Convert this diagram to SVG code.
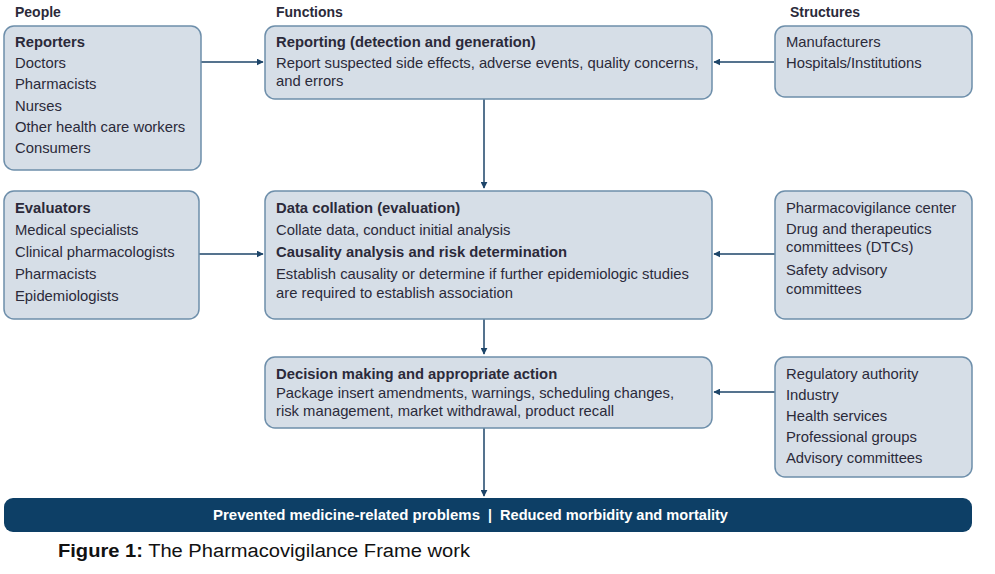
<svg xmlns="http://www.w3.org/2000/svg" width="995" height="574" viewBox="0 0 995 574">
<defs>
<style>
.box{fill:#d6dee7;stroke:#6e8fab;stroke-width:1.5}
.t{font-family:"Liberation Sans",Arial,sans-serif;font-size:14.8px;fill:#2b2a3a}
.b{font-weight:bold}
.h{font-family:"Liberation Sans",Arial,sans-serif;font-size:14px;font-weight:bold;fill:#2b2a3a}
.c{stroke:#1d4569;stroke-width:1.5;fill:none}
.w{font-family:"Liberation Sans",Arial,sans-serif;font-size:14px;font-weight:bold;fill:#ffffff}
</style>
<marker id="ah" viewBox="0 0 10 10" refX="9" refY="5" markerWidth="7" markerHeight="7" orient="auto" markerUnits="userSpaceOnUse">
<path d="M0,0 L10,5 L0,10 z" fill="#1d4569"/>
</marker>
</defs>
<rect width="995" height="574" fill="#ffffff"/>
<g id="headers">
<text class="h" x="15" y="17">People</text>
<text class="h" x="276" y="17">Functions</text>
<text class="h" x="790" y="17">Structures</text>
</g>
<g id="connectors">
<line class="c" x1="201" y1="62" x2="263" y2="62" marker-end="url(#ah)"/>
<line class="c" x1="774" y1="62" x2="714" y2="62" marker-end="url(#ah)"/>
<line class="c" x1="484" y1="99" x2="484" y2="188" marker-end="url(#ah)"/>
<line class="c" x1="199" y1="254" x2="263" y2="254" marker-end="url(#ah)"/>
<line class="c" x1="775" y1="254" x2="714" y2="254" marker-end="url(#ah)"/>
<line class="c" x1="484" y1="319" x2="484" y2="354" marker-end="url(#ah)"/>
<line class="c" x1="775" y1="392" x2="714" y2="392" marker-end="url(#ah)"/>
<line class="c" x1="484" y1="428" x2="484" y2="496" marker-end="url(#ah)"/>
</g>
<g id="reporters">
<rect class="box" x="4" y="26" width="197" height="144" rx="10"/>
<text class="t b" x="15" y="47">Reporters</text>
<text class="t" x="15" y="68">Doctors</text>
<text class="t" x="15" y="89">Pharmacists</text>
<text class="t" x="15" y="111">Nurses</text>
<text class="t" x="15" y="132">Other health care workers</text>
<text class="t" x="15" y="153">Consumers</text>
</g>
<g id="reporting">
<rect class="box" x="265" y="26" width="447" height="73" rx="10"/>
<text class="t b" x="276" y="47">Reporting (detection and generation)</text>
<text class="t" x="276" y="68">Report suspected side effects, adverse events, quality concerns,</text>
<text class="t" x="276" y="86">and errors</text>
</g>
<g id="manufacturers">
<rect class="box" x="775" y="26" width="197" height="71" rx="10"/>
<text class="t" x="786" y="47">Manufacturers</text>
<text class="t" x="786" y="68">Hospitals/Institutions</text>
</g>
<g id="evaluators">
<rect class="box" x="4" y="191" width="195" height="128" rx="10"/>
<text class="t b" x="15" y="213">Evaluators</text>
<text class="t" x="15" y="235">Medical specialists</text>
<text class="t" x="15" y="257">Clinical pharmacologists</text>
<text class="t" x="15" y="279">Pharmacists</text>
<text class="t" x="15" y="301">Epidemiologists</text>
</g>
<g id="datacollation">
<rect class="box" x="265" y="191" width="447" height="128" rx="10"/>
<text class="t b" x="276" y="213">Data collation (evaluation)</text>
<text class="t" x="276" y="235">Collate data, conduct initial analysis</text>
<text class="t b" x="276" y="257">Causality analysis and risk determination</text>
<text class="t" x="276" y="279">Establish causality or determine if further epidemiologic studies</text>
<text class="t" x="276" y="298">are required to establish association</text>
</g>
<g id="pvcenter">
<rect class="box" x="775" y="191" width="197" height="128" rx="10"/>
<text class="t" x="786" y="213">Pharmacovigilance center</text>
<text class="t" x="786" y="234">Drug and therapeutics</text>
<text class="t" x="786" y="252">committees (DTCs)</text>
<text class="t" x="786" y="275">Safety advisory</text>
<text class="t" x="786" y="294">committees</text>
</g>
<g id="decision">
<rect class="box" x="265" y="357" width="447" height="71" rx="10"/>
<text class="t b" x="276" y="379">Decision making and appropriate action</text>
<text class="t" x="276" y="398">Package insert amendments, warnings, scheduling changes,</text>
<text class="t" x="276" y="416">risk management, market withdrawal, product recall</text>
</g>
<g id="regulatory">
<rect class="box" x="775" y="357" width="197" height="120" rx="10"/>
<text class="t" x="786" y="379">Regulatory authority</text>
<text class="t" x="786" y="400">Industry</text>
<text class="t" x="786" y="421">Health services</text>
<text class="t" x="786" y="442">Professional groups</text>
<text class="t" x="786" y="463">Advisory committees</text>
</g>
<g id="outcome">
<rect x="4" y="498" width="968" height="34" rx="9" fill="#0d3f66"/>
<text class="w" x="213" y="520" textLength="267" lengthAdjust="spacingAndGlyphs">Prevented medicine-related problems</text>
<text class="w" x="490" y="520" text-anchor="middle" font-weight="normal">|</text>
<text class="w" x="500" y="520" textLength="228" lengthAdjust="spacingAndGlyphs">Reduced morbidity and mortality</text>
</g>
<g id="caption">
<text x="58" y="557" font-family="'Liberation Sans',Arial,sans-serif" font-size="18" fill="#111111" textLength="412" lengthAdjust="spacingAndGlyphs"><tspan font-weight="bold">Figure 1:</tspan> The Pharmacovigilance Frame work</text>
</g>
</svg>
